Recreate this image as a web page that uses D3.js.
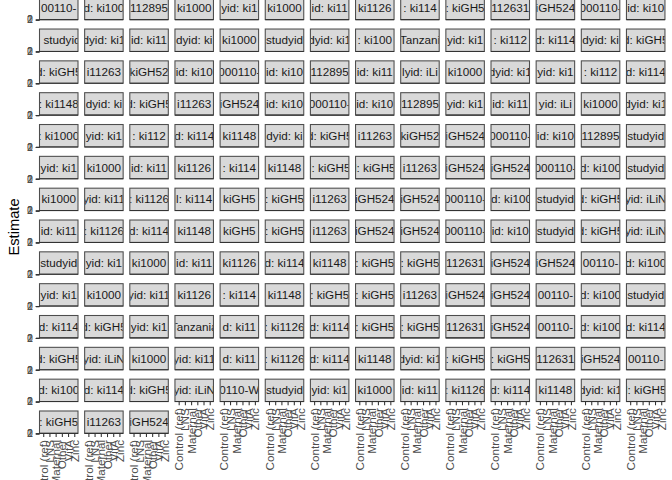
<!DOCTYPE html>
<html><head><meta charset="utf-8">
<script src="https://cdn.jsdelivr.net/npm/d3@7"></script>
<style>body{margin:0;background:#fff}svg{display:block}text{font-family:"Liberation Sans",Arial,Helvetica,sans-serif}</style>
</head><body>
<script>
// x categories (discrete axis)
const categories = ["Control (ref)", "LNS", "Maternal", "Other", "VitA", "Zinc"];
// y tick values (panels have collapsed to zero height, so they overlap)
const yTicks = [0, 1, 2];
const yTitle = "Estimate";
// facet strip labels (visible part), in reading order, 14 per row
const stripRow1  = ["00110-", "d: ki100", "112895", "ki1000", "yid: ki1", "ki1000", "id: ki11", "ki1126", ": ki114", ": kiGH5", "112631", "iGH524", "000110-", "id: ki10"];
const stripRow2  = [", studyid", "dyid: ki1", "id: ki11", "dyid: ki", "ki1000", "studyid", "dyid: ki1", ": ki100", "Tanzani", "yid: ki1", ": ki112", "d: ki114", "dyid: ki", "d: kiGH5"];
const stripRow3  = ["d: kiGH5", "i11263", "kiGH52", "id: ki10", "000110-", "id: ki10", "112895", "id: ki11", "lyid: iLi", "ki1000", "dyid: ki1", "yid: ki1", ": ki112", "d: ki114"];
const stripRow4  = [": ki1148", "dyid: ki", "d: kiGH5", "i11263", "iGH524", "id: ki10", "000110-", "id: ki10", "112895", "yid: ki1", "id: ki11", "yid: iLi", "ki1000", "dyid: ki1"];
const stripRow5  = [": ki1000", "yid: ki1", ": ki112", "d: ki114", "ki1148", "dyid: ki", "d: kiGH5", "i11263", "kiGH52", "iGH524", "000110-", "id: ki10", "112895", "studyid"];
const stripRow6  = ["yid: ki1", "ki1000", "id: ki11", "ki1126", ": ki114", "ki1148", "l: kiGH5", "l: kiGH5", "i11263", "iGH524", "iGH524", "000110-", "d: ki100", "studyid"];
const stripRow7  = ["ki1000", "yid: ki11", ": ki1126", "l: ki114", "kiGH5", ": kiGH5", "i11263", "iGH524", "iGH524", "000110-", "id: ki100", "studyid", "d: kiGH5", "yid: iLiN"];
const stripRow8  = ["id: ki11", ": ki1126", "d: ki114", "ki1148", "kiGH5", ": kiGH5", "i11263", "iGH524", "iGH524", "000110-", "id: ki10", "studyid", "d: kiGH5", "yid: iLiN"];
const stripRow9  = ["studyid", "yid: ki1", "ki1000", "id: ki11", "ki1126", "d: ki114", "ki1148", ": kiGH5", ": kiGH5", "112631", "iGH524", "iGH524", "00110-", "d: ki100"];
const stripRow10 = ["yid: ki1", "ki1000", "yid: ki11", "ki1126", ": ki114", "ki1148", ": kiGH5", ": kiGH5", "i11263", "iGH524", "iGH524", "00110-", "d: ki100", "studyid"];
const stripRow11 = ["d: ki114", "d: kiGH5", "yid: ki1", "Tanzania", "d: ki11", ": ki1126", "d: ki114", ": kiGH5", ": kiGH5", "112631", "iGH524", "00110-", "d: ki100", "d: ki114"];
const stripRow12 = ["d: kiGH5", "yid: iLiN", "ki1000", "yid: ki11", "d: ki11", ": ki1126", "d: ki114", "ki1148", "dyid: ki1", ": kiGH5", ": kiGH5", "112631", "iGH524", "00110-"];
const stripRow13 = ["d: ki100", "d: ki114", "d: kiGH5", "yid: iLiN", "0110-W", "studyid", "yid: ki1", "ki1000", "id: ki11", ": ki1126", "d: ki114", "ki1148", "dyid: ki1", "l: kiGH5"];
const stripRow14 = [": kiGH5", "i11263", "iGH524"];
const facetLabels = [].concat(stripRow1, stripRow2, stripRow3, stripRow4, stripRow5, stripRow6, stripRow7,
  stripRow8, stripRow9, stripRow10, stripRow11, stripRow12, stripRow13, stripRow14);

const W = 672, H = 480;
const nCols = 14;
const left0 = 39.5, colPitch = 45.15, pw = 38.5;
const top0 = -2.8, rowPitch = 31.83, stripH = 22.4;

const svg = d3.select("body").append("svg").attr("width", W).attr("height", H);

const x = d3.scalePoint().domain(categories).range([0, pw]).padding(0.6);

const facets = facetLabels.map((lab, i) => ({lab, i, r: Math.floor(i / nCols), c: i % nCols}));
const lastInCol = {};
facets.forEach(f => { if (!(f.c in lastInCol) || lastInCol[f.c] < f.r) lastInCol[f.c] = f.r; });

const g = svg.selectAll("g.facet").data(facets).join("g")
  .attr("class", "facet")
  .attr("transform", d => `translate(${left0 + d.c * colPitch},${top0 + d.r * rowPitch})`);

// strip background
g.append("rect")
  .attr("x", 0).attr("y", 0).attr("width", pw).attr("height", stripH)
  .attr("fill", "#D9D9D9").attr("stroke", "#4D4D4D").attr("stroke-width", 1.07);

// clipped strip text
g.append("svg")
  .attr("x", 0.5).attr("y", 0.5).attr("width", pw - 1).attr("height", stripH - 1)
  .append("text")
  .attr("x", (pw - 1) / 2).attr("y", (stripH - 1) / 2).attr("dy", "0.35em")
  .attr("text-anchor", "middle")
  .attr("font-size", "11.7px").attr("fill", "#1A1A1A")
  .text(d => d.lab);

// collapsed panel border
g.append("line")
  .attr("x1", 0).attr("x2", pw).attr("y1", stripH).attr("y2", stripH)
  .attr("stroke", "#333").attr("stroke-width", 1.07);

// y axis on first column
const y = d3.scaleLinear().domain(d3.extent(yTicks)).range([0, 0]);
g.filter(d => d.c === 0).append("g")
  .attr("transform", `translate(0,${stripH})`)
  .call(d3.axisLeft(y).tickValues(yTicks).tickSize(3.7).tickPadding(2.9).tickFormat(d3.format("d")))
  .call(a => a.select(".domain").remove())
  .call(a => a.selectAll("line").attr("stroke", "#333").attr("stroke-width", 1.07))
  .call(a => a.selectAll("text").attr("fill", "#4D4D4D").attr("font-size", "10.5px"));

// x axis under the last panel of each column
g.filter(d => d.r === lastInCol[d.c]).append("g")
  .attr("transform", `translate(0,${stripH})`)
  .call(d3.axisBottom(x).tickSize(3.7).tickPadding(2.9))
  .call(a => a.select(".domain").remove())
  .call(a => a.selectAll("line").attr("stroke", "#333").attr("stroke-width", 1.07))
  .call(a => a.selectAll("text")
    .attr("fill", "#4D4D4D").attr("font-size", "11.7px")
    .attr("y", 0).attr("dy", "0.35em").attr("x", 0)
    .attr("transform", "translate(0,6.6) rotate(-90)")
    .style("text-anchor", "end"));

// y axis title
svg.append("text")
  .attr("transform", "translate(19,227) rotate(-90)")
  .attr("text-anchor", "middle").attr("font-size", "14.7px").attr("fill", "#000")
  .text(yTitle);
</script>
</body></html>
